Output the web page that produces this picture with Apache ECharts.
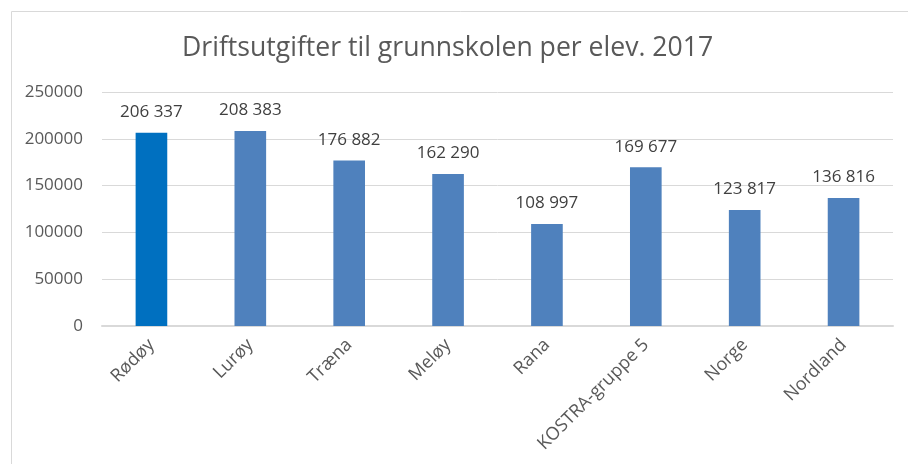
<!DOCTYPE html>
<html>
<head>
<meta charset="utf-8">
<script src="https://cdn.jsdelivr.net/npm/echarts@6/dist/echarts.min.js"></script>
<style>
html, body { margin: 0; padding: 0; background: #fff; }
#chart { width: 908px; height: 464px; }
</style>
</head>
<body>
<div id="chart"></div>
<script>
// data
const categories = ["Rødøy", "Lurøy", "Træna", "Meløy", "Rana", "KOSTRA-gruppe 5", "Norge", "Nordland"];
const values = [206337, 208383, 176882, 162290, 108997, 169677, 123817, 136816];
const barColors = ["#0070C0", "#4F81BD", "#4F81BD", "#4F81BD", "#4F81BD", "#4F81BD", "#4F81BD", "#4F81BD"];

const chart = echarts.init(document.getElementById("chart"));

function fmt(v) {
    return String(v).replace(/\B(?=(\d{3})+(?!\d))/g, " ");
}

chart.setOption({
    animation: false,
    textStyle: { fontFamily: "Open Sans" },
    title: {
        text: "Driftsutgifter til grunnskolen per elev. 2017",
        left: 177,
        top: 30,
        textStyle: { fontSize: 26.6, fontWeight: "normal", color: "#595959", fontFamily: "Open Sans" }
    },
    graphic: [{
        type: "rect",
        shape: { x: 11.5, y: 11.5, width: 1000, height: 1000 },
        style: { fill: null, stroke: "#d9d9d9", lineWidth: 1 },
        silent: true
    }],
    grid: { left: 102, right: 15, top: 92, bottom: 138 },
    xAxis: {
        type: "category",
        data: categories,
        axisLine: { show: true, lineStyle: { color: "#d9d9d9", width: 2 } },
        axisTick: { show: false },
        axisLabel: { rotate: 45, color: "#595959", fontSize: 18, margin: 16, interval: 0 }
    },
    yAxis: {
        type: "value",
        min: 0,
        max: 250000,
        interval: 50000,
        axisLine: { show: false },
        axisTick: { show: false },
        splitLine: { lineStyle: { color: "#d9d9d9", width: 1 } },
        axisLabel: { color: "#595959", fontSize: 17, margin: 19, formatter: v => String(v) }
    },
    series: [{
        type: "bar",
        barWidth: "32%",
        data: values.map((v, i) => ({ value: v, itemStyle: { color: barColors[i] } })),
        label: {
            show: true,
            position: "top",
            distance: 12,
            color: "#404040",
            fontSize: 17,
            formatter: p => fmt(p.value)
        }
    }]
});

window.addEventListener("resize", () => chart.resize());
</script>
</body>
</html>
